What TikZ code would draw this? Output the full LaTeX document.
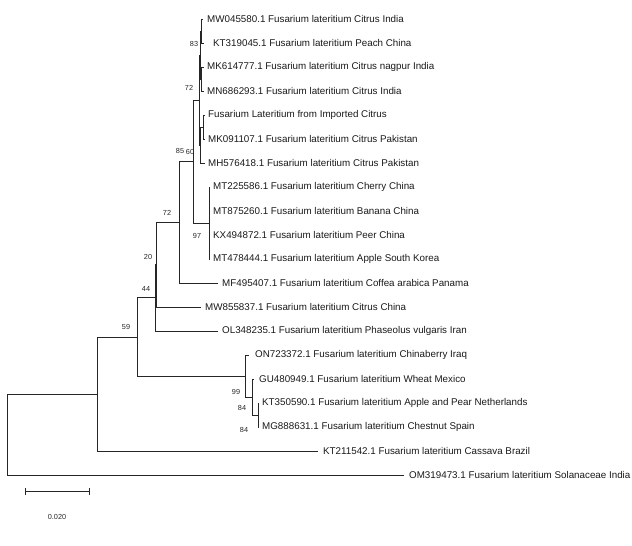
\documentclass[tikz,border=0pt]{standalone}
\usepackage{fontspec}
\setmainfont{Liberation Sans}
\begin{document}
\begin{tikzpicture}[x=1pt,y=-1pt,
  br/.style={draw=black!85,line width=0.9pt},
  leaf/.style={anchor=west,inner sep=0pt,text=black!90,font=\fontsize{9.8}{11}\selectfont},
  bs/.style={inner sep=0pt,text=black!85,font=\fontsize{7.3}{9}\selectfont}]
\useasboundingbox (0,0) rectangle (632,546);
% internal nodes
\coordinate (A) at (201,31);
\coordinate (B) at (200.5,55);
\coordinate (Bp) at (201.5,79);
\coordinate (C) at (199.5,100);
\coordinate (N) at (203,127);
\coordinate (P) at (200.5,145);
\coordinate (Q) at (209,223);
\coordinate (D) at (193,161.5);
\coordinate (E) at (179,222);
\coordinate (H) at (156.5,264.5);
\coordinate (F) at (155,297.75);
\coordinate (K) at (258,415);
\coordinate (J) at (252,397);
\coordinate (I) at (245.5,376);
\coordinate (G) at (137,337);
\coordinate (M) at (97,394);
\coordinate (R) at (7,434.5);
% tips
\coordinate (t1) at (203,19);
\coordinate (t2) at (204,43);
\coordinate (t3) at (203.5,67);
\coordinate (t4) at (203.5,91);
\coordinate (t5) at (205,115);
\coordinate (t6) at (205,139);
\coordinate (t7) at (205,163);
\coordinate (t8) at (210,187);
\coordinate (t9) at (210,211);
\coordinate (t10) at (210,235);
\coordinate (t11) at (210,259);
\coordinate (t12) at (218,283);
\coordinate (t13) at (201,307);
\coordinate (t14) at (218,331);
\coordinate (t15) at (249,355);
\coordinate (t16) at (254,379);
\coordinate (t17) at (259,403);
\coordinate (t18) at (259,427);
\coordinate (t19) at (318,451);
\coordinate (t20) at (404,475);
% labels
\node[leaf] (l1) at (207,19) {MW045580.1 Fusarium lateritium Citrus India};
\node[leaf] (l2) at (213,43) {KT319045.1 Fusarium lateritium Peach China};
\node[leaf] (l3) at (207,67) {MK614777.1 Fusarium lateritium Citrus nagpur India};
\node[leaf] (l4) at (207,91) {MN686293.1 Fusarium lateritium Citrus India};
\node[leaf] (l5) at (208,115) {Fusarium Lateritium from Imported Citrus};
\node[leaf] (l6) at (208,139) {MK091107.1 Fusarium lateritium Citrus Pakistan};
\node[leaf] (l7) at (208,163) {MH576418.1 Fusarium lateritium Citrus Pakistan};
\node[leaf] (l8) at (213,187) {MT225586.1 Fusarium lateritium Cherry China};
\node[leaf] (l9) at (213,211) {MT875260.1 Fusarium lateritium Banana China};
\node[leaf] (l10) at (213,235) {KX494872.1 Fusarium lateritium Peer China};
\node[leaf] (l11) at (213,259) {MT478444.1 Fusarium lateritium Apple South Korea};
\node[leaf] (l12) at (222,283) {MF495407.1 Fusarium lateritium Coffea arabica Panama};
\node[leaf] (l13) at (205,307) {MW855837.1 Fusarium lateritium Citrus China};
\node[leaf] (l14) at (222,331) {OL348235.1 Fusarium lateritium Phaseolus vulgaris Iran};
\node[leaf] (l15) at (255,355) {ON723372.1 Fusarium lateritium Chinaberry Iraq};
\node[leaf] (l16) at (259,379) {GU480949.1 Fusarium lateritium Wheat Mexico};
\node[leaf] (l17) at (262,403) {KT350590.1 Fusarium lateritium Apple and Pear Netherlands};
\node[leaf] (l18) at (262,427) {MG888631.1 Fusarium lateritium Chestnut Spain};
\node[leaf] (l19) at (323,451) {KT211542.1 Fusarium lateritium Cassava Brazil};
\node[leaf] (l20) at (409,475) {OM319473.1 Fusarium lateritium Solanaceae India};
% branches
\draw[br] (A) |- (t1) (A) |- (t2);
\draw[br] (Bp) |- (t3) (Bp) |- (t4);
\draw[br] (B) |- (A) (B) |- (Bp);
\draw[br] (N) |- (t5) (N) |- (t6);
\draw[br] (P) |- (N) (P) |- (t7);
\draw[br] (C) |- (B) (C) |- (P);
\draw[br] (Q) |- (t8) (Q) |- (t9) (Q) |- (t10) (Q) |- (t11);
\draw[br] (D) |- (C) (D) |- (Q);
\draw[br] (E) |- (D) (E) |- (t12);
\draw[br] (H) |- (E) (H) |- (t13);
\draw[br] (F) |- (H) (F) |- (t14);
\draw[br] (K) |- (t17) (K) |- (t18);
\draw[br] (J) |- (t16) (J) |- (K);
\draw[br] (I) |- (t15) (I) |- (J);
\draw[br] (G) |- (F) (G) |- (I);
\draw[br] (M) |- (G) (M) |- (t19);
\draw[br] (R) |- (M) (R) |- (t20);
% support values
\node[bs] (s83) at (194,44) {83};
\node[bs] (s72a) at (189,88) {72};
\node[bs] (s85) at (180,151) {85};
\node[bs] (s60) at (190,152) {60};
\node[bs] (s72b) at (167,213) {72};
\node[bs] (s97) at (197,236) {97};
\node[bs] (s20) at (148,257) {20};
\node[bs] (s44) at (146,289) {44};
\node[bs] (s59) at (126,327) {59};
\node[bs] (s99) at (236,392) {99};
\node[bs] (s84a) at (242,408) {84};
\node[bs] (s84b) at (244,430) {84};
% scale bar
\coordinate (sb1) at (25,491);
\coordinate (sb2) at (89,491);
\draw[br] (sb1) -- (sb2);
\draw[br] ([yshift=-3.5pt]sb1) -- ([yshift=3.5pt]sb1);
\draw[br] ([yshift=-3.5pt]sb2) -- ([yshift=3.5pt]sb2);
\node[bs] (sbl) at (57,517) {0.020};
\end{tikzpicture}
\end{document}
